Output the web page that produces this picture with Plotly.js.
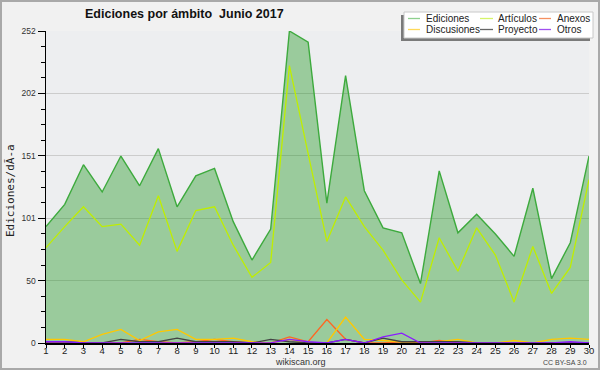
<!DOCTYPE html>
<html>
<head>
<meta charset="utf-8">
<script src="https://cdn.plot.ly/plotly-3.0.1.min.js"></script>
<style>
  html, body { margin: 0; padding: 0; background: #F0F0F0; }
  #wrap { position: relative; width: 600px; height: 370px; }
  #chart { width: 600px; height: 370px; }
  #frame { position: absolute; left: 0; top: 0; width: 600px; height: 370px; box-sizing: border-box; border: 2px solid #A9A9A9; pointer-events: none; }
</style>
</head>
<body>
<div id="wrap"><div id="chart"></div><div id="frame"></div></div>
<script>
// ---- data ----
const days = [1,2,3,4,5,6,7,8,9,10,11,12,13,14,15,16,17,18,19,20,21,22,23,24,25,26,27,28,29,30];
const ediciones   = [94,112,144,122,151,127,157,110,135,141,98,67,92,252,243,113,216,123,93,89,48,139,89,104,88,70,125,52,81,151];
const articulos   = [77,94,110,94,96,79,119,74,107,110,79,53,65,224,153,82,118,94,75,51,33,85,58,93,71,33,78,40,61,132];
const anexos      = [0,0,0,0,0,3,1,0,1,3,1,0,0,5,1,19,3,0,0,1,0,2,0,0,0,0,0,0,0,0];
const discusiones = [3,3,1,7,11,2,9,11,3,3,4,1,0,3,0,0,21,3,2,1,1,1,3,0,0,2,0,3,4,3];
const proyecto    = [1,1,0,0,3,1,1,4,1,1,1,0,3,1,0,0,3,0,4,1,1,1,1,0,0,0,0,0,0,0];
const otros       = [1,1,0,0,0,0,0,0,0,0,0,0,0,3,1,0,3,0,5,8,0,0,0,0,0,0,0,0,1,0];

const yTickVals  = [0, 50.4, 100.8, 151.2, 201.6, 252];
const yTickText  = ['0','50','101','151','202','252'];

const names  = ['Ediciones','Artículos','Anexos','Discusiones','Proyecto','Otros'];
const series = [ediciones, articulos, anexos, discusiones, proyecto, otros];
const colors = ['#3DAA3D','#BFEE00','#FF6622','#FFC800','#444444','#8A1BFF'];
const legendColors = ['#8ED08E','#D6F46A','#F59060','#FFD95A','#666666','#A050F0'];

const traces = series.map((vals, i) => {
  const t = {
    x: days, y: vals, type: 'scatter', mode: 'lines', name: names[i],
    line: { color: colors[i], width: i === 0 ? 1.4 : 1.3 },
    hoverinfo: 'skip', showlegend: false
  };
  if (i === 0) { t.fill = 'tozeroy'; t.fillcolor = 'rgba(0,138,0,0.35)'; }
  return t;
});

// pixel helpers for the plot area (l=46, r=589, top=31, bottom=343)
const L = 46, R = 589, T = 31, B = 343;
const px = x => (x - L) / (R - L);
const py = y => (B - y) / (B - T);

const shapes = [];
const annotations = [];

// legend box with shadow
shapes.push({ type:'rect', xref:'paper', yref:'paper', x0:px(401), x1:px(590), y0:py(41), y1:py(15), fillcolor:'#7A7A7A', line:{width:0}, layer:'above' });
shapes.push({ type:'rect', xref:'paper', yref:'paper', x0:px(404), x1:px(593), y0:py(38), y1:py(12), fillcolor:'#FFFFFF', line:{color:'#C8C8C8', width:1}, layer:'above' });

const colLineX = [[408,420],[480,493],[539,551]];
const colTextX = [424, 496, 555];
const rowY = [18.5, 29.5];
// legend order: row 1 Ediciones, Artículos, Anexos; row 2 Discusiones, Proyecto, Otros
names.forEach((n, i) => {
  const row = Math.floor(i / 3), col = i % 3;
  shapes.push({ type:'line', xref:'paper', yref:'paper', x0:px(colLineX[col][0]), x1:px(colLineX[col][1]), y0:py(rowY[row]), y1:py(rowY[row]), line:{color:legendColors[i], width:1.3}, layer:'above' });
  annotations.push({ xref:'paper', yref:'paper', x:px(colTextX[col]), y:py(rowY[row]), xanchor:'left', yanchor:'middle', text:n, showarrow:false, font:{family:'Liberation Sans, Arial, sans-serif', size:10, color:'#222'} });
});

// y axis title
annotations.push({ xref:'paper', yref:'paper', x:px(10), y:py(191), xanchor:'center', yanchor:'middle', textangle:-90, text:'Ediciones/dÃ-a', showarrow:false, font:{family:'DejaVu Sans Mono, monospace', size:11, color:'#222'} });
// x axis caption
annotations.push({ xref:'paper', yref:'paper', x:px(300), y:py(362), xanchor:'center', yanchor:'middle', text:'wikiscan.org', showarrow:false, font:{family:'Liberation Sans, Arial, sans-serif', size:9, color:'#333'} });
// licence
annotations.push({ xref:'paper', yref:'paper', x:px(589), y:py(362), xanchor:'right', yanchor:'middle', text:'CC BY-SA 3.0', showarrow:false, font:{family:'Liberation Sans, Arial, sans-serif', size:7, color:'#444'} });

const layout = {
  width: 600, height: 370,
  margin: { l: L, r: 600 - R, t: T, b: 370 - B, pad: 0 },
  paper_bgcolor: '#F1F1F1',
  plot_bgcolor: '#EDEEF0',
  title: {
    text: '<b>Ediciones por ámbito  Junio 2017</b>',
    xref: 'container', yref: 'container', x: 85/600, xanchor: 'left', y: 1 - 14/370, yanchor: 'middle',
    font: { family: 'Liberation Sans, Arial, sans-serif', size: 12.5, color: '#111' }
  },
  xaxis: {
    range: [1, 30], tickvals: days, ticktext: days.map(String),
    ticks: 'outside', ticklen: 3, tickcolor: '#000', tickwidth: 1,
    ticklabelstandoff: -5,
    showline: true, linecolor: '#000', linewidth: 1.5,
    showgrid: false, zeroline: false,
    tickfont: { family: 'Liberation Sans, Arial, sans-serif', size: 9.5, color: '#222' }
  },
  yaxis: {
    range: [0, 252], tickvals: yTickVals, ticktext: yTickText,
    ticks: 'outside', ticklen: 7, tickcolor: '#000', tickwidth: 1,
    showline: true, linecolor: '#000', linewidth: 1.5,
    showgrid: true, gridcolor: '#CCCCCC', gridwidth: 1, zeroline: false,
    tickfont: { family: 'Liberation Sans, Arial, sans-serif', size: 8.5, color: '#333' },
    minor: { tick0: 0, dtick: 12.6, ticks: 'outside', ticklen: 4, tickcolor: '#000', tickwidth: 1, showgrid: false }
  },
  shapes: shapes,
  annotations: annotations,
  showlegend: false
};

Plotly.newPlot('chart', traces, layout, { staticPlot: true, displayModeBar: false });
</script>
</body>
</html>
